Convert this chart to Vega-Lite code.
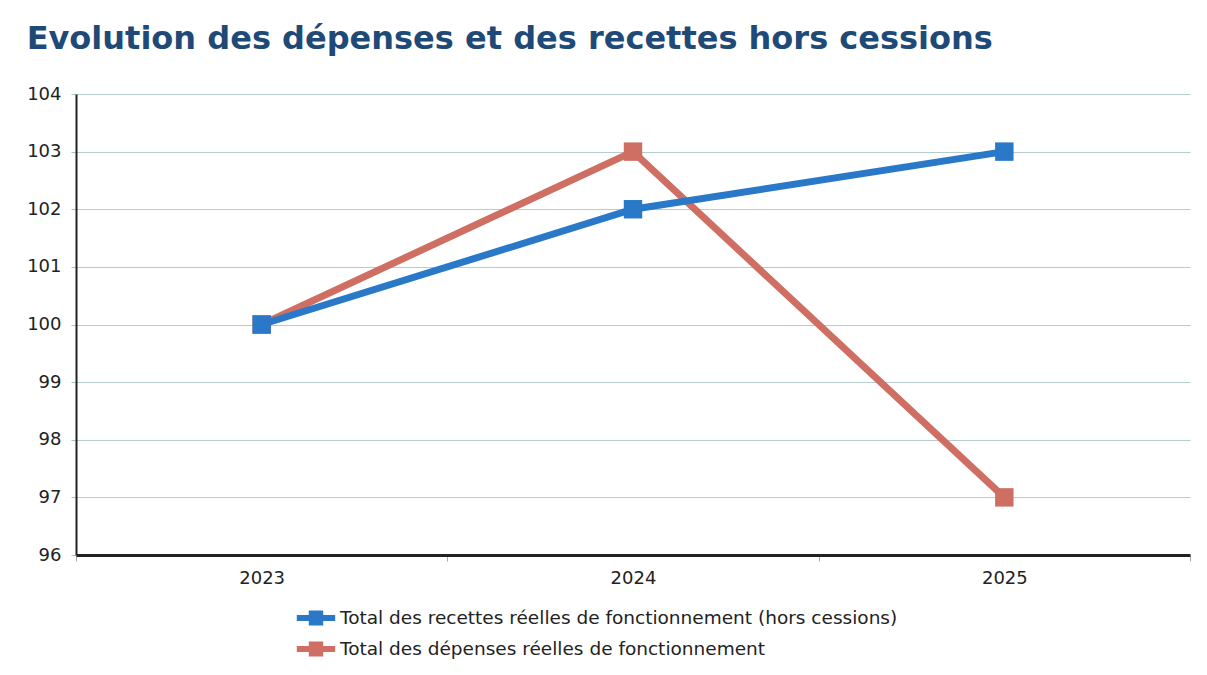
{
  "$schema": "https://vega.github.io/schema/vega-lite/v6.json",
  "width": 1114,
  "height": 461,
  "autosize": {"type": "none"},
  "padding": {"left": 76, "top": 94, "right": 17, "bottom": 120},
  "background": "white",
  "title": {
    "text": "Evolution des dépenses et des recettes hors cessions",
    "anchor": "start",
    "font": "DejaVu Sans",
    "fontSize": 32,
    "fontWeight": "bold",
    "color": "#1f4a78",
    "dx": 0,
    "offset": 29
  },
  "data": {
    "values": [
      {"annee": "2023", "serie": "Total des dépenses réelles de fonctionnement", "valeur": 100},
      {"annee": "2024", "serie": "Total des dépenses réelles de fonctionnement", "valeur": 103},
      {"annee": "2025", "serie": "Total des dépenses réelles de fonctionnement", "valeur": 97},
      {"annee": "2023", "serie": "Total des recettes réelles de fonctionnement (hors cessions)", "valeur": 100},
      {"annee": "2024", "serie": "Total des recettes réelles de fonctionnement (hors cessions)", "valeur": 102},
      {"annee": "2025", "serie": "Total des recettes réelles de fonctionnement (hors cessions)", "valeur": 103}
    ]
  },
  "encoding": {
    "x": {
      "field": "annee",
      "type": "ordinal",
      "title": null,
      "scale": {"type": "band", "paddingInner": 0, "paddingOuter": 0},
      "axis": {
        "labelAngle": 0,
        "labelFont": "DejaVu Sans",
        "labelFontSize": 18,
        "labelColor": "#222222",
        "labelPadding": 8,
        "domainColor": "#222222",
        "domainWidth": 3,
        "tickBand": "extent",
        "tickColor": "#aaaaaa",
        "tickSize": 6,
        "grid": false
      }
    },
    "y": {
      "field": "valeur",
      "type": "quantitative",
      "title": null,
      "scale": {"domain": [96, 104], "zero": false, "nice": false},
      "axis": {
        "values": [96, 97, 98, 99, 100, 101, 102, 103, 104],
        "labelFont": "DejaVu Sans",
        "labelFontSize": 18,
        "labelColor": "#222222",
        "labelPadding": 10,
        "domainColor": "#222222",
        "domainWidth": 2,
        "tickColor": "#aac4c4",
        "tickSize": 5,
        "grid": true,
        "gridColor": "#b4cccc",
        "gridWidth": 1
      }
    },
    "color": {
      "field": "serie",
      "type": "nominal",
      "title": null,
      "scale": {
        "domain": ["Total des recettes réelles de fonctionnement (hors cessions)", "Total des dépenses réelles de fonctionnement"],
        "range": ["#2a78c8", "#cf6f63"]
      },
      "legend": {
        "orient": "none",
        "legendX": 228,
        "legendY": 512,
        "symbolType": "M-1.6,-0.25 L-0.6,-0.25 L-0.6,-0.62 L0.6,-0.62 L0.6,-0.25 L1.6,-0.25 L1.6,0.25 L0.6,0.25 L0.6,0.62 L-0.6,0.62 L-0.6,0.25 L-1.6,0.25 Z",
        "symbolSize": 576,
        "symbolStrokeWidth": 0,
        "symbolOpacity": 1,
        "labelFont": "DejaVu Sans",
        "labelFontSize": 18.5,
        "labelColor": "#222222",
        "labelOffset": 12,
        "rowPadding": 9,
        "labelLimit": 700
      }
    }
  },
  "layer": [
    {
      "mark": {"type": "line", "strokeWidth": 7},
      "encoding": {}
    },
    {
      "mark": {"type": "point", "shape": "square", "filled": true, "size": 340, "opacity": 1},
      "encoding": {}
    }
  ],
  "config": {
    "view": {"stroke": null}
  }
}
